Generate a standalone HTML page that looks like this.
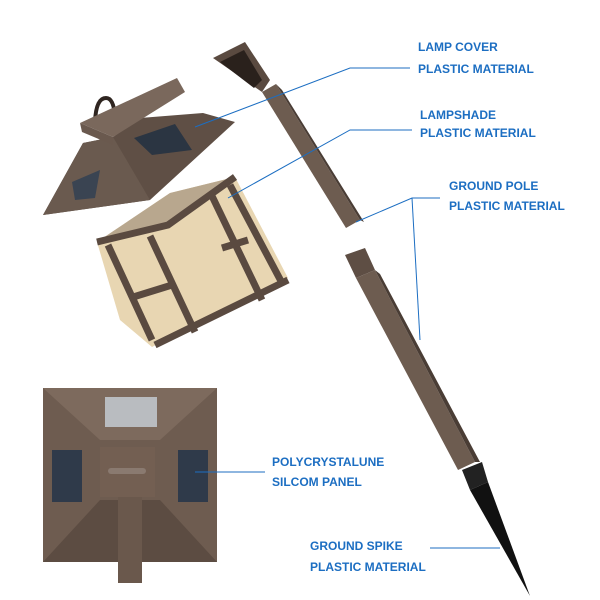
<!DOCTYPE html>
<html><head><meta charset="utf-8"><style>
html,body{margin:0;padding:0;background:#fff;width:600px;height:600px;overflow:hidden}
svg{display:block}
text{font-family:"Liberation Sans",sans-serif;font-weight:bold;font-size:12px;fill:#1c6ec2}
</style></head><body>
<svg width="600" height="600" viewBox="0 0 600 600">
<!-- upper pole -->
<polygon points="213,58 245,42 270,80 262,92" fill="#5a4a40"/>
<polygon points="220,62 244,50 262,80 254,88" fill="#2a211c"/>
<polygon points="262,92 276,84 360,220 346,228" fill="#6d5c50"/>
<polygon points="276,84 282,90 364,222 360,220" fill="#4a3d35"/>
<!-- lower pole -->
<polygon points="345,255 365,248 375,270 356,278" fill="#5e4e44"/>
<polygon points="356,278 375,270 475,462 458,470" fill="#6d5c50"/>
<polygon points="375,270 380,274 480,462 475,462" fill="#4a3d35"/>
<!-- spike -->
<polygon points="462,470 482,462 488,482 470,490" fill="#222"/>
<polygon points="470,490 488,482 530,596" fill="#111"/>
<!-- lamp cover -->
<path d="M95,122 Q96,98 106,98 Q114,98 115,118" stroke="#2f2520" stroke-width="4" fill="none"/>
<polygon points="43,215 83,143 113,137 140,118 203,113 235,122 150,200" fill="#5f4f45"/>
<polygon points="43,215 83,143 113,137 150,200" fill="#6a5a4f"/>
<polygon points="80,123 177,78 185,92 113,137" fill="#7a685c"/>
<polygon points="80,123 113,137 113,145 82,132" fill="#6a594e"/>
<polygon points="72,182 100,170 95,198 75,200" fill="#3a4452"/>
<polygon points="134,138 175,124 192,150 152,155" fill="#2b3542"/>
<!-- lampshade -->
<polygon points="97,242 170,193 235,177 288,278 152,347 120,320" fill="#e8d6b2"/>
<polygon points="97,242 170,193 235,177 168,225" fill="#b8a78e"/>
<g stroke="#5a4a40" stroke-width="7" fill="none">
<polyline points="97,242 168,225 235,177"/>
<line x1="155" y1="345" x2="288" y2="280"/>
<line x1="108" y1="245" x2="152" y2="340"/>
<line x1="150" y1="236" x2="195" y2="332"/>
<line x1="212" y1="196" x2="262" y2="300"/>
<line x1="230" y1="185" x2="282" y2="283"/>
<line x1="130" y1="298" x2="172" y2="285"/>
<line x1="222" y1="248" x2="248" y2="240"/>
</g>
<!-- bottom square -->
<rect x="43" y="388" width="174" height="174" fill="#6e5c50"/>
<polygon points="43,388 217,388 160,440 100,440" fill="#7d6a5d"/>
<polygon points="43,562 217,562 160,500 100,500" fill="#5c4c42"/>
<rect x="100" y="447" width="55" height="50" fill="#735f52"/>
<rect x="105" y="397" width="52" height="30" fill="#b9bcc0"/>
<rect x="52" y="450" width="30" height="52" fill="#2f3a4a"/>
<rect x="178" y="450" width="30" height="52" fill="#2f3a4a"/>
<rect x="118" y="497" width="24" height="86" fill="#6a584c"/>
<rect x="108" y="468" width="38" height="6" rx="3" fill="#8a7a70"/>
<!-- connector lines -->
<g stroke="#1c6ec2" stroke-width="1" fill="none">
<polyline points="195,127 350,68 410,68"/>
<polyline points="228,198 350,130 412,130"/>
<polyline points="356,222 412,198 440,198"/>
<line x1="412" y1="198" x2="420" y2="340"/>
<line x1="195" y1="472" x2="265" y2="472"/>
<line x1="430" y1="548" x2="500" y2="548"/>
</g>
<text x="418" y="51">LAMP COVER</text>
<text x="418" y="73">PLASTIC MATERIAL</text>
<text x="420" y="119">LAMPSHADE</text>
<text x="420" y="137">PLASTIC MATERIAL</text>
<text x="449" y="190">GROUND POLE</text>
<text x="449" y="210">PLASTIC MATERIAL</text>
<text x="272" y="466">POLYCRYSTALUNE</text>
<text x="272" y="486">SILCOM PANEL</text>
<text x="310" y="550">GROUND SPIKE</text>
<text x="310" y="571">PLASTIC MATERIAL</text>
</svg>
</body></html>
